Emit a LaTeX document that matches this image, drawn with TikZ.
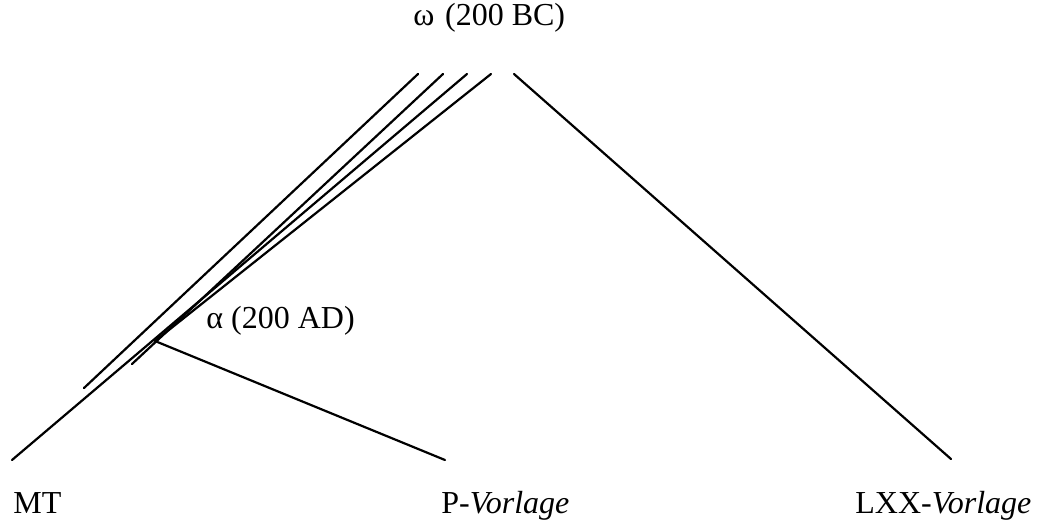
\documentclass[tikz,border=0pt]{standalone}
\usepackage{fontspec}
\setmainfont{Liberation Serif}
\usepackage{tikz}
\usetikzlibrary{positioning}

\tikzset{
  stemline/.style={line width=1.1pt, line cap=round},
  witness/.style={inner sep=0pt, anchor=base west, font=\fontsize{16}{19}\selectfont}
}

\begin{document}
\begin{tikzpicture}[x=0.5pt, y=-0.5pt]
  \useasboundingbox (0,0) rectangle (1038,520);

  % upper ends of the lines, just below omega
  \coordinate (t1) at (418,74);
  \coordinate (t2) at (443,74);
  \coordinate (t3) at (467,74);
  \coordinate (t4) at (491,74);
  \coordinate (tR) at (514,74);

  % lower ends
  \coordinate (b1) at (84,388);
  \coordinate (b2) at (132,364);
  \coordinate (alpha) at (155,341);
  \coordinate (mt) at (12,460);
  \coordinate (pv) at (445,460);
  \coordinate (lxx) at (951,459);

  % labels
  \node[witness] (omegaL) at (413,25) {ω\,\,(200 BC)};
  \node[witness] (alphaL) at (206,328) {α (200 AD)};
  \node[witness] (mtL) at (13,513) {MT};
  \node[witness] (pvL) at (441,513) {P-\textit{Vorlage}};
  \node[witness] (lxxL) at (855,513) {LXX-\textit{Vorlage}};

  % the stemma lines
  \draw[stemline] (t1) -- (b1);
  \draw[stemline] (t2) -- (b2);
  \draw[stemline] (t3) -- (mt);
  \draw[stemline] (t4) -- (alpha);
  \draw[stemline] (alpha) -- (pv);
  \draw[stemline] (tR) -- (lxx);
\end{tikzpicture}
\end{document}
